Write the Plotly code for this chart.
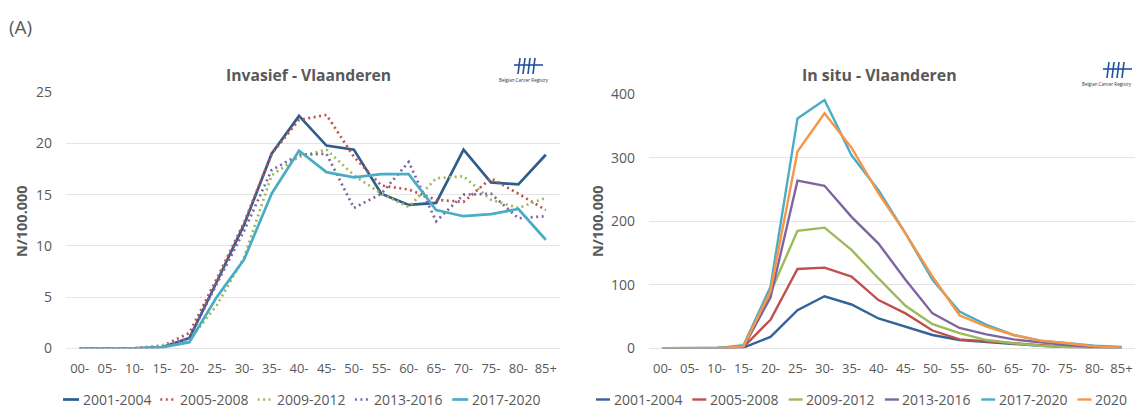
import plotly.graph_objects as go

# ---- data -----------------------------------------------------------------
ages = ["00-", "05-", "10-", "15-", "20-", "25-", "30-", "35-", "40-",
        "45-", "50-", "55-", "60-", "65-", "70-", "75-", "80-", "85+"]

# Invasive incidence per 100,000 (Flanders)
inv_periods = ["2001-2004", "2005-2008", "2009-2012", "2013-2016", "2017-2020"]
inv_2001_2004 = [0, 0, 0, 0.1, 1.0, 6.5, 12.1, 19.0, 22.7, 19.8, 19.4, 15.1, 14.0, 14.2, 19.4, 16.2, 16.0, 18.9]
inv_2005_2008 = [0, 0, 0, 0.2, 1.5, 6.8, 12.3, 19.0, 22.3, 22.8, 18.7, 15.9, 15.5, 14.5, 14.3, 16.6, 15.1, 13.5]
inv_2009_2012 = [0, 0, 0, 0.3, 0.8, 4.2, 8.9, 16.9, 18.7, 19.4, 16.9, 15.1, 13.8, 16.6, 16.8, 14.5, 13.7, 14.7]
inv_2013_2016 = [0, 0, 0, 0.1, 1.0, 6.3, 11.5, 17.4, 18.9, 19.0, 13.7, 15.1, 18.2, 12.4, 15.0, 15.1, 12.7, 12.9]
inv_2017_2020 = [0, 0, 0, 0.1, 0.6, 5.0, 8.7, 15.1, 19.3, 17.2, 16.7, 17.0, 17.0, 13.5, 12.9, 13.1, 13.6, 10.6]

# In situ incidence per 100,000 (Flanders)
ins_periods = ["2001-2004", "2005-2008", "2009-2012", "2013-2016", "2017-2020", "2020"]
ins_2001_2004 = [0, 0, 0, 1, 18, 60, 82, 69, 47, 34, 21, 13, 10, 6, 4, 2, 1, 0.5]
ins_2005_2008 = [0, 0, 0, 2, 45, 125, 127, 113, 76, 55, 28, 14, 11, 7, 4, 2, 1, 0.5]
ins_2009_2012 = [0, 0, 0, 3, 88, 185, 190, 155, 110, 67, 38, 24, 13, 8, 4, 2, 1, 0.5]
ins_2013_2016 = [0, 0, 0, 2, 80, 264, 256, 207, 165, 108, 55, 32, 22, 14, 9, 5, 2, 1]
ins_2017_2020 = [0, 0, 0, 5, 97, 362, 391, 304, 249, 181, 108, 58, 37, 21, 12, 8, 4, 2]
ins_2020 = [0, 0, 0, 3, 90, 310, 370, 316, 244, 181, 113, 52, 34, 21, 12, 8, 3, 1]

# ---- styling --------------------------------------------------------------
W, H = 1135, 410
FONT = "Open Sans"
GREY = "#595959"
GRID = "#E4E4E4"
LOGO_BLUE = "#2450A0"
DOTS = "2px,3.5px"

inv_colors = ["#2F5D8C", "#C0504D", "#9BBB59", "#8064A2", "#4BACC6"]
inv_dash = ["solid", DOTS, DOTS, DOTS, "solid"]
ins_colors = ["#33639A", "#C0504D", "#9BBB59", "#8064A2", "#4BACC6", "#F79646"]
ins_dash = ["solid"] * 6


def fx(px):
    return px / W


def fy(py):
    return 1 - py / H


fig = go.Figure()

inv_series = [inv_2001_2004, inv_2005_2008, inv_2009_2012, inv_2013_2016, inv_2017_2020]
for name, vals, col, dash in zip(inv_periods, inv_series, inv_colors, inv_dash):
    fig.add_trace(go.Scatter(
        x=ages, y=vals, name=name, mode="lines",
        line=dict(color=col, width=2.7, dash=dash),
        xaxis="x", yaxis="y"))

ins_series = [ins_2001_2004, ins_2005_2008, ins_2009_2012, ins_2013_2016,
              ins_2017_2020, ins_2020]
for name, vals, col in zip(ins_periods, ins_series, ins_colors):
    fig.add_trace(go.Scatter(
        x=ages, y=vals, name=name, mode="lines",
        line=dict(color=col, width=2.4),
        xaxis="x2", yaxis="y2"))

xcommon = dict(type="category", range=[-0.5, 17.5], showgrid=False,
               showline=False, zeroline=False, ticks="",
               tickfont=dict(family=FONT, size=13, color=GREY),
               ticklabelstandoff=11, fixedrange=True)
ycommon = dict(showgrid=True, gridcolor=GRID, gridwidth=1, zeroline=True,
               zerolinecolor=GRID, zerolinewidth=1, showline=False, ticks="",
               tickfont=dict(family=FONT, size=14, color=GREY),
               ticklabelstandoff=13, fixedrange=True)

fig.update_layout(
    width=W, height=H,
    margin=dict(l=0, r=0, t=0, b=0, autoexpand=False),
    paper_bgcolor="white", plot_bgcolor="white",
    font=dict(family=FONT, color=GREY),
    showlegend=False,
    xaxis=dict(domain=[fx(66), fx(559.5)], anchor="y", **xcommon),
    yaxis=dict(domain=[fy(348.3), fy(92.3)], anchor="x", range=[0, 25],
               dtick=5, **ycommon),
    xaxis2=dict(domain=[fx(649), fx(1135)], anchor="y2", **xcommon),
    yaxis2=dict(domain=[fy(348.3), fy(94.3)], anchor="x2", range=[0, 400],
                dtick=100, **ycommon),
)

annotations = [
    dict(text="(A)", x=fx(7), y=fy(27), xanchor="left", yanchor="middle",
         font=dict(family=FONT, size=19, color=GREY)),
    dict(text="<b>Invasief - Vlaanderen</b>", x=fx(308.5), y=fy(75),
         xanchor="center", yanchor="middle",
         font=dict(family=FONT, size=15.7, color=GREY)),
    dict(text="<b>In situ - Vlaanderen</b>", x=fx(879), y=fy(75),
         xanchor="center", yanchor="middle",
         font=dict(family=FONT, size=15.9, color=GREY)),
    dict(text="<b>N/100.000</b>", x=fx(21), y=fy(221), textangle=-90,
         xanchor="center", yanchor="middle",
         font=dict(family=FONT, size=14.5, color=GREY)),
    dict(text="<b>N/100.000</b>", x=fx(597), y=fy(221), textangle=-90,
         xanchor="center", yanchor="middle",
         font=dict(family=FONT, size=14.5, color=GREY)),
]

shapes = []


def add_legend(names, colors, dashes, width, x_start, pitch, key_len, y_px):
    # one row of legend keys: a short line sample followed by the period label
    for k, (name, col, dash) in enumerate(zip(names, colors, dashes)):
        x0 = x_start + pitch * k
        shapes.append(dict(type="line", xref="paper", yref="paper",
                           x0=fx(x0), x1=fx(x0 + key_len), y0=fy(y_px), y1=fy(y_px),
                           line=dict(color=col, width=width, dash=dash)))
        annotations.append(dict(text=name, x=fx(x0 + key_len + 1.5), y=fy(y_px),
                                xanchor="left", yanchor="middle",
                                font=dict(family=FONT, size=14, color=GREY)))


add_legend(inv_periods, inv_colors, inv_dash, 2.7, 63, 97.3, 16, 399.5)
add_legend(ins_periods, ins_colors, ins_dash, 2.4, 596, 96.3, 14, 399.5)


def add_logo(cx, cy):
    # Belgian Cancer Registry mark: four strokes crossed by a bar, caption below
    shapes.append(dict(type="line", xref="paper", yref="paper",
                       x0=fx(cx - 14), x1=fx(cx + 15), y0=fy(cy), y1=fy(cy),
                       line=dict(color=LOGO_BLUE, width=1.6)))
    for dx in (-9, -4, 1, 6):
        shapes.append(dict(type="line", xref="paper", yref="paper",
                           x0=fx(cx + dx + 1), x1=fx(cx + dx - 1),
                           y0=fy(cy - 7), y1=fy(cy + 9),
                           line=dict(color=LOGO_BLUE, width=1.6)))
    # caption kept inside the page
    right_edge = min(cx + 23, W - 1)
    annotations.append(dict(text="Belgian Cancer Registry", x=fx(right_edge),
                            y=fy(cy + 15), xanchor="right", yanchor="middle",
                            font=dict(family=FONT, size=4.5, color="#333333")))


add_logo(528, 65)
add_logo(1117, 69)

for a in annotations:
    a.setdefault("xref", "paper")
    a.setdefault("yref", "paper")
    a.setdefault("showarrow", False)

fig.update_layout(annotations=annotations, shapes=shapes)

fig.write_html("out.html", config={"displayModeBar": False})
